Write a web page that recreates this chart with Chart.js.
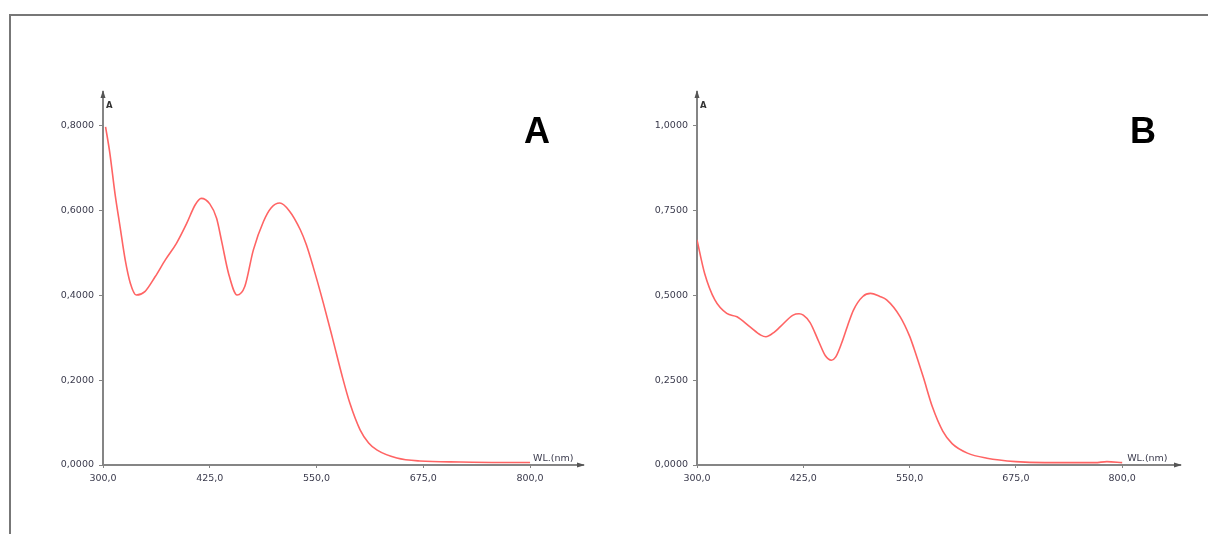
<!DOCTYPE html>
<html>
<head>
<meta charset="utf-8">
<script src="https://cdn.jsdelivr.net/npm/chart.js@4.4.1/dist/chart.umd.min.js"></script>
<style>
  html, body { margin: 0; padding: 0; background: #fff; }
  body { width: 1208px; height: 534px; position: relative; overflow: hidden; }
  #frame { position: absolute; left: 9px; top: 14px; right: -10px; bottom: -10px;
           border-top: 2px solid #777; border-left: 2px solid #777; }
  .box { position: absolute; top: 0; width: 604px; height: 534px; }
  #boxA { left: 0; }
  #boxB { left: 604px; }
</style>
</head>
<body>
<div id="frame"></div>
<div class="box" id="boxA"><canvas id="chartA"></canvas></div>
<div class="box" id="boxB"><canvas id="chartB"></canvas></div>
<script>
// ---- Data ----
const wavelengthA = [303, 308, 314, 320, 326, 332, 339, 349, 361, 373, 386, 398, 408, 415, 425, 433, 439, 447, 457, 466, 476, 488, 497, 507, 518, 531, 538, 546, 558, 569, 580, 589, 601, 611, 621, 644, 671, 719, 764, 800];
const absorbanceA = [0.798, 0.736, 0.641, 0.562, 0.484, 0.429, 0.401, 0.409, 0.444, 0.484, 0.523, 0.570, 0.614, 0.629, 0.616, 0.582, 0.527, 0.452, 0.401, 0.421, 0.507, 0.575, 0.607, 0.618, 0.600, 0.555, 0.520, 0.468, 0.382, 0.297, 0.210, 0.146, 0.083, 0.052, 0.035, 0.0165, 0.0094, 0.007, 0.006, 0.006];

const wavelengthB = [300, 309, 321, 335, 347, 362, 375, 381, 391, 398, 413, 420, 425, 433, 443, 451, 458, 463, 470, 477, 484, 495, 504, 515, 523, 539, 550, 555, 566, 577, 589, 600, 618, 641, 675, 709, 768, 782, 800];
const absorbanceB = [0.664, 0.565, 0.487, 0.447, 0.437, 0.408, 0.383, 0.378, 0.392, 0.408, 0.442, 0.446, 0.442, 0.420, 0.365, 0.322, 0.309, 0.318, 0.359, 0.410, 0.457, 0.497, 0.506, 0.497, 0.487, 0.437, 0.380, 0.345, 0.260, 0.170, 0.100, 0.063, 0.035, 0.020, 0.010, 0.007, 0.007, 0.010, 0.007];

const xTickLabels = [300, 425, 550, 675, 800];
const yTickLabelsA = [0, 0.2, 0.4, 0.6, 0.8];
const yTickLabelsB = [0, 0.25, 0.5, 0.75, 1.0];

const panelLetterA = 'A';
const panelLetterB = 'B';
const xAxisTitle = 'WL.(nm)';
const yAxisTitle = 'A';

// ---- Styles ----
const AXIS_COLOR = '#858585';
const TICK_TEXT = '#3a3a4c';
const LINE_COLOR = 'rgb(255, 100, 100)';
const FONT = "'DejaVu Sans', sans-serif";

const decorPlugin = {
  id: 'decor',
  afterDraw(chart, args, opts) {
    const ctx = chart.ctx;
    const x = chart.scales.x, y = chart.scales.y;
    const ca = chart.chartArea;
    const axisY = y.getPixelForValue(0);
    ctx.save();
    ctx.fillStyle = '#555';
    // x arrow
    ctx.beginPath();
    ctx.moveTo(ca.right + 2, axisY);
    ctx.lineTo(ca.right - 6, axisY - 2.5);
    ctx.lineTo(ca.right - 6, axisY + 2.5);
    ctx.closePath();
    ctx.fill();
    // y arrow
    ctx.beginPath();
    ctx.moveTo(ca.left, ca.top - 2);
    ctx.lineTo(ca.left - 2.5, ca.top + 6);
    ctx.lineTo(ca.left + 2.5, ca.top + 6);
    ctx.closePath();
    ctx.fill();
    // y axis title
    ctx.fillStyle = '#333';
    ctx.font = "bold 8.5px " + FONT;
    ctx.textAlign = 'left';
    ctx.textBaseline = 'alphabetic';
    ctx.fillText(yAxisTitle, ca.left + 3, ca.top + 16);
    // x axis title
    ctx.font = "9.5px " + FONT;
    ctx.fillStyle = TICK_TEXT;
    ctx.fillText(xAxisTitle, x.getPixelForValue(800) + opts.wlOffset, axisY - 4);
    // big panel letter
    ctx.fillStyle = '#000';
    ctx.font = "bold 36px 'Liberation Sans', Arial, sans-serif";
    ctx.textAlign = 'center';
    ctx.fillText(opts.letter, opts.letterX, 143);
    ctx.restore();
  }
};

function makeChart(id, xs, ys, yTicks, yMax, xMax, axisLeft, padRight, letter, letterX, wlOffset) {
  const pts = xs.map((v, i) => ({ x: v, y: ys[i] }));
  return new Chart(document.getElementById(id), {
    type: 'line',
    data: {
      datasets: [{
        data: pts,
        borderColor: LINE_COLOR,
        borderWidth: 1.6,
        pointRadius: 0,
        fill: false,
        cubicInterpolationMode: 'monotone'
      }]
    },
    options: {
      responsive: true,
      maintainAspectRatio: false,
      animation: false,
      events: [],
      layout: { padding: { left: 0, right: padRight, top: 92, bottom: 0 } },
      plugins: {
        legend: { display: false },
        tooltip: { enabled: false },
        decor: { letter: letter, letterX: letterX, wlOffset: wlOffset }
      },
      scales: {
        x: {
          type: 'linear',
          min: 300,
          max: xMax,
          afterBuildTicks: s => { s.ticks = xTickLabels.map(v => ({ value: v })); },
          afterFit: s => { s.height = 69; },
          grid: { drawOnChartArea: false, tickLength: 3, tickColor: AXIS_COLOR, tickWidth: 1 },
          border: { display: true, color: AXIS_COLOR, width: 2 },
          ticks: {
            color: TICK_TEXT,
            font: { family: FONT, size: 9.5 },
            padding: 5,
            maxRotation: 0,
            autoSkip: false,
            callback: v => Number(v).toFixed(1).replace('.', ',')
          }
        },
        y: {
          type: 'linear',
          min: 0,
          max: yMax,
          afterBuildTicks: s => { s.ticks = yTicks.map(v => ({ value: v })); },
          afterFit: s => { s.width = axisLeft; },
          grid: { drawOnChartArea: false, tickLength: 4, tickColor: AXIS_COLOR, tickWidth: 1 },
          border: { display: true, color: AXIS_COLOR, width: 2 },
          ticks: {
            color: TICK_TEXT,
            font: { family: FONT, size: 9.5 },
            padding: 5,
            autoSkip: false,
            callback: v => Number(v).toFixed(4).replace('.', ',')
          }
        }
      }
    },
    plugins: [decorPlugin]
  });
}

makeChart('chartA', wavelengthA, absorbanceA, yTickLabelsA, 0.88, 862, 103, 21, panelLetterA, 537, 3);
makeChart('chartB', wavelengthB, absorbanceB, yTickLabelsB, 1.1, 868, 93, 28, panelLetterB, 539, 5);
</script>
</body>
</html>
